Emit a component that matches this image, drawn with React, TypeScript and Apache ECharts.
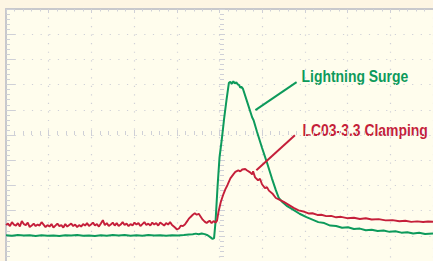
import React, { useEffect, useRef } from "react";
import * as echarts from "echarts";

// Oscilloscope screen: 10 horizontal divisions × 10 vertical divisions.
// Units: x = time (43.2 units per division), y = level (25.6 units per division).
const X_MAX = 432;
const X_DIV = 43.2;
const Y_MAX = 256;
const Y_DIV = 25.6;

const surgeName = "Lightning Surge";
const clampName = "LC03-3.3 Clamping";

// Lightning surge trace (green)
const surgeData: [number, number][] = [
  [0, 26.2], [6, 25.6], [12, 26.3], [18, 25.8], [24, 26.1], [30, 25.5], [36, 26.2], [42, 25.7],
  [48, 26.0], [54, 25.4], [60, 26.1], [66, 25.8], [72, 26.4], [78, 25.6], [84, 26.0], [90, 25.5],
  [96, 26.2], [102, 25.7], [108, 26.3], [114, 25.9], [120, 26.5], [126, 25.7], [132, 26.1], [138, 25.6],
  [144, 26.3], [150, 25.9], [156, 26.2], [162, 25.7], [168, 26.1], [174, 25.8], [180, 26.3], [185, 26.8],
  [189, 27.2], [192, 27.8], [195, 27.1], [198, 27.9], [201, 27.3], [204, 26.2], [207, 24.0], [209, 22.4],
  [210.5, 23.2], [212, 40], [214, 75], [216, 105], [218.5, 125], [220.7, 145], [223, 163], [225.5, 181],
  [227, 182], [228.5, 180], [230, 182.5], [231.5, 180.5], [233, 181.5], [234.5, 179.5], [236, 178.5], [237, 176],
  [238, 177], [239.7, 175], [244, 161.6], [249, 146], [250.5, 143], [254, 131], [259, 115], [264, 100],
  [269, 84], [273, 72], [276, 64], [279, 60.5], [284, 56], [290, 52.5], [297, 48], [304, 44.5],
  [310, 42], [316, 39.5], [322, 38.5], [328, 36], [334, 35.5], [340, 33.8], [346, 34.2], [352, 32.5],
  [358, 32.9], [364, 31.3], [370, 31.8], [376, 30.4], [382, 30.9], [388, 29.6], [394, 30.2], [400, 28.8],
  [406, 29.3], [412, 27.9], [418, 28.6], [424, 27.5], [432, 28.0],
];

// Clamped trace (red)
const clampData: [number, number][] = [
  [0, 36.5], [2, 38], [4, 35.5], [6, 39.5], [8, 37], [10, 36], [12, 38.5], [14, 35], [16, 40.5],
  [18, 37.5], [20, 36.5], [22, 39], [24, 34.5], [26, 36], [28, 38], [30, 35.5], [32, 37], [34, 36],
  [36, 39.5], [38, 37], [40, 34.5], [42, 36.5], [44, 35], [46, 37.5], [48, 34], [50, 36], [52, 38],
  [54, 35.5], [56, 36.5], [58, 34], [60, 37.5], [62, 35], [64, 36.5], [66, 38], [68, 35.5], [70, 37],
  [72, 34.5], [74, 36.5], [76, 35], [78, 37.5], [80, 36], [82, 38.5], [84, 35.5], [86, 37], [88, 39],
  [90, 36], [92, 37.5], [94, 35], [96, 38], [98, 41.5], [100, 36.5], [102, 38.5], [104, 35.5], [106, 37],
  [108, 39], [110, 36], [112, 38.5], [114, 35.5], [116, 37], [118, 39.5], [120, 36.5], [122, 38],
  [124, 35.5], [126, 37.5], [128, 36], [130, 39], [132, 37], [134, 38.5], [136, 35.5], [138, 37.5],
  [140, 39.5], [142, 36.5], [144, 38], [146, 36], [148, 39], [150, 37], [152, 38.5], [154, 36],
  [156, 39], [158, 37.5], [160, 36], [162, 38.5], [164, 37], [166, 39.5], [168, 36.5],
  [171, 34], [173, 32], [175, 33], [177, 36], [179, 35.5], [181, 37], [183, 40], [185, 43],
  [187, 45], [189, 47], [191, 48.5], [193, 47], [195, 48], [197, 45], [199, 42], [201, 40],
  [203, 38.5], [204, 39.5], [206, 41], [208, 38.5], [210, 40.5], [212, 39], [213.5, 41],
  [215, 50], [217.3, 60], [220, 68], [222, 73], [224, 77], [227, 84], [230, 88], [232, 90.5],
  [235, 92], [237, 91], [239, 93], [242, 93.5], [244, 92], [247, 90], [249, 88], [250, 91],
  [252, 85], [255, 82], [257, 83.5], [259, 78], [262, 74], [264, 75], [266, 71.5], [270, 68],
  [273, 64], [277, 62], [281, 60], [286, 57], [291, 54], [296, 51.5], [302, 50], [306, 48.3],
  [310, 48.5], [315, 46.8], [319, 47], [324, 45.6], [329, 45.8], [334, 44.4], [339, 44.9],
  [345, 43.5], [352, 43.9], [358, 42.7], [364, 43.4], [370, 42.2], [377, 42.5], [384, 41.3],
  [391, 41.5], [398, 40.4], [404, 40.9], [410, 39.8], [416, 40.3], [422, 39.6], [427, 40.1],
  [432, 39.8],
];

// Leader lines (label end -> trace end), in data units
const surgeLeader: [number, number][] = [[294, 181.7], [252.3, 153.3]];
const clampLeader: [number, number][] = [[292.3, 127.7], [253.3, 92.3]];

const GREEN = "#0d9a5b";
const RED = "#c51f3a";
const GRID = "#cfd0d7";
const BORDER = "#c8c8cc";
const FONT = 'bold 17px "Liberation Sans", Arial, sans-serif';
const TEXT_SQUEEZE = 0.82;

const hidden = { show: false };

function centerAxis(dim: "x" | "y", inside: boolean, offset: number) {
  return {
    type: "value",
    min: 0,
    max: dim === "x" ? X_MAX : Y_MAX,
    interval: dim === "x" ? X_DIV : Y_DIV,
    position: dim === "x" ? "bottom" : "left",
    offset,
    axisLine: { show: false, onZero: false },
    axisTick: { show: true, inside, length: 3, lineStyle: { color: GRID, width: 1 } },
    minorTick: { show: true, splitNumber: 5, length: 2, lineStyle: { color: GRID, width: 1 } },
    axisLabel: hidden,
    splitLine: hidden,
  };
}

export default function App() {
  const ref = useRef<HTMLDivElement>(null);
  useEffect(() => {
    if (!ref.current) return;
    const chart = echarts.init(ref.current, null, { renderer: "svg" });
    const option: any = {
      animation: false,
      backgroundColor: "#fdf5e3",
      grid: {
        left: 6,
        top: 9,
        width: X_MAX * (43.2 / X_DIV),
        height: Y_MAX * (25.6 / Y_DIV),
        show: true,
        backgroundColor: "#fffded",
        borderWidth: 0,
      },
      xAxis: [
        {
          type: "value",
          min: 0,
          max: X_MAX,
          interval: X_DIV,
          position: "bottom",
          axisLine: { show: false, onZero: false },
          axisTick: hidden,
          axisLabel: hidden,
          splitLine: { show: true, lineStyle: { color: GRID, width: 1.2, type: [1.2, 7.33] } },
        },
        {
          type: "value",
          min: 0,
          max: X_MAX,
          interval: X_DIV,
          position: "top",
          axisLine: { show: true, onZero: false, lineStyle: { color: BORDER, width: 2 } },
          axisTick: { show: true, inside: true, length: 4, lineStyle: { color: GRID } },
          minorTick: { show: true, splitNumber: 5, length: 2.5, lineStyle: { color: GRID } },
          axisLabel: hidden,
          splitLine: hidden,
        },
        centerAxis("x", true, -128),
        centerAxis("x", false, -128),
      ],
      yAxis: [
        {
          type: "value",
          min: 0,
          max: Y_MAX,
          interval: Y_DIV,
          position: "left",
          axisLine: { show: true, onZero: false, lineStyle: { color: BORDER, width: 2 } },
          axisTick: { show: true, inside: true, length: 9, lineStyle: { color: GRID } },
          minorTick: { show: true, splitNumber: 5, length: 4, lineStyle: { color: GRID } },
          axisLabel: hidden,
          splitLine: { show: true, lineStyle: { color: GRID, width: 1.2, type: [1.2, 7.44] } },
        },
        centerAxis("y", true, -216),
        centerAxis("y", false, -216),
      ],
      series: [
        {
          name: surgeName,
          type: "line",
          xAxisIndex: 0,
          yAxisIndex: 0,
          data: surgeData,
          showSymbol: false,
          lineStyle: { color: GREEN, width: 2 },
          itemStyle: { color: GREEN },
          markLine: {
            silent: true,
            symbol: ["none", "none"],
            label: hidden,
            lineStyle: { color: GREEN, width: 2, type: "solid" },
            data: [[{ coord: surgeLeader[0] }, { coord: surgeLeader[1] }]],
          },
        },
        {
          name: clampName,
          type: "line",
          xAxisIndex: 0,
          yAxisIndex: 0,
          data: clampData,
          showSymbol: false,
          lineStyle: { color: RED, width: 1.9 },
          itemStyle: { color: RED },
          markLine: {
            silent: true,
            symbol: ["none", "none"],
            label: hidden,
            lineStyle: { color: RED, width: 2, type: "solid" },
            data: [[{ coord: clampLeader[0] }, { coord: clampLeader[1] }]],
          },
        },
      ],
      graphic: [
        {
          type: "text",
          x: 301.5,
          y: 76,
          scaleX: TEXT_SQUEEZE,
          style: { text: surgeName, fill: GREEN, font: FONT, align: "left", verticalAlign: "middle" },
        },
        {
          type: "text",
          x: 302.5,
          y: 130,
          scaleX: TEXT_SQUEEZE,
          style: { text: clampName, fill: RED, font: FONT, align: "left", verticalAlign: "middle" },
        },
      ],
    };
    chart.setOption(option);
    return () => chart.dispose();
  }, []);
  return (
    <div
      ref={ref}
      style={{ position: "fixed", left: 0, top: 0, width: 433, height: 261, overflow: "hidden" }}
    />
  );
}
